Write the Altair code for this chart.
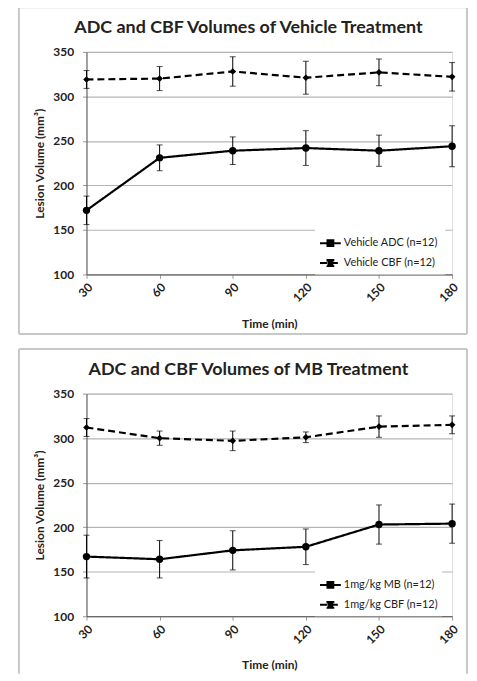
import altair as alt
import pandas as pd

times = [30, 60, 90, 120, 150, 180]

veh_title = "ADC and CBF Volumes of Vehicle Treatment"
veh_labels = ["Vehicle ADC  (n=12)", "Vehicle CBF (n=12)"]
veh_adc = [172, 231, 239, 242, 239, 244]
veh_adc_err = [16, 14.5, 15.5, 19.5, 17.5, 23]
veh_cbf = [319, 320, 328, 321, 327, 322]
veh_cbf_err = [10, 13.5, 16.5, 18.5, 15, 16]

mb_title = "ADC and CBF Volumes of MB Treatment"
mb_labels = ["1mg/kg MB (n=12)", "1mg/kg CBF (n=12)"]
mb_adc = [167, 164, 174, 178, 203, 204]
mb_adc_err = [24, 21, 22, 20, 22, 22]
mb_cbf = [312, 300, 297, 301, 313, 315]
mb_cbf_err = [10, 8, 11, 6, 12, 10]

y_ticks = [100, 150, 200, 250, 300, 350]
FONT = "Lato"
W, H = 368, 224


def panel(title, labels, adc, adc_err, cbf, cbf_err, closed):
    rows = []
    for lab, vals, errs in [(labels[0], adc, adc_err), (labels[1], cbf, cbf_err)]:
        for t, v, e in zip(times, vals, errs):
            rows.append({"time": t, "value": v, "lo": v - e, "hi": v + e, "series": lab})
    df = pd.DataFrame(rows)
    base = alt.Chart(df)

    x = alt.X("time:Q", scale=alt.Scale(domain=[30, 180], nice=False, zero=False),
              axis=alt.Axis(values=times, labelAngle=-45, title="Time (min)", grid=False,
                            labelFont=FONT, labelFontSize=12, labelFontWeight="bold",
                            titleFont=FONT, titleFontSize=12, titleFontWeight="bold",
                            tickSize=4, labelPadding=3, titleY=49, titleBaseline="middle",
                            domainColor="#555", tickColor="#999", labelColor="#222",
                            titleColor="#222"))

    def ydef(field):
        return alt.Y(f"{field}:Q", scale=alt.Scale(domain=[100, 350], nice=False, zero=False),
                     axis=alt.Axis(values=y_ticks, title="Lesion Volume (mm³)", grid=True,
                                   gridColor="#b5b5b5", gridWidth=1.2,
                                   labelFont=FONT, labelFontSize=12, labelFontWeight="bold",
                                   titleFont=FONT, titleFontSize=12, titleFontWeight="bold",
                                   tickSize=4, labelPadding=9, titleX=-47, titleBaseline="middle",
                                   domainColor="#555", tickColor="#999", labelColor="#222",
                                   titleColor="#222"))

    dash = alt.StrokeDash("series:N", scale=alt.Scale(domain=labels, range=[[1, 0], [7, 4]]),
                          legend=alt.Legend(title=None, orient="none", legendX=230, legendY=177,
                                            fillColor="white", padding=4,
                                            labelFont=FONT, labelFontSize=11, labelColor="#222",
                                            symbolType="M-1,0L1,0M-0.28,-0.28L0.28,-0.28L0.28,0.28L-0.28,0.28Z",
                                            symbolSize=440, symbolStrokeWidth=2,
                                            symbolStrokeColor="black", symbolFillColor="black",
                                            rowPadding=1, labelOffset=2))

    line = base.mark_line(color="black", strokeWidth=2.2).encode(x=x, y=ydef("value"), strokeDash=dash)
    pts_adc = base.transform_filter(alt.datum.series == labels[0]).mark_point(
        filled=True, color="black", opacity=1, shape="circle", size=55).encode(x=x, y=ydef("value"))
    pts_cbf = base.transform_filter(alt.datum.series == labels[1]).mark_point(
        filled=True, color="black", opacity=1, shape="diamond", size=45).encode(x=x, y=ydef("value"))
    rule = base.mark_rule(color="black", strokeWidth=1).encode(x=x, y=ydef("lo"), y2="hi:Q")
    cap_lo = base.mark_tick(color="black", orient="horizontal", size=6, thickness=1).encode(x=x, y=ydef("lo"))
    cap_hi = base.mark_tick(color="black", orient="horizontal", size=6, thickness=1).encode(x=x, y=ydef("hi"))

    one = alt.Chart(pd.DataFrame({"a": [0]}))
    fr = dict(stroke="#c8c8c8", strokeWidth=2)
    yb = 284 if closed else 282
    frames = [
        one.mark_rule(**fr).encode(x=alt.value(-68), y=alt.value(-45), y2=alt.value(yb)),
        one.mark_rule(**fr).encode(x=alt.value(W + 15), y=alt.value(-45), y2=alt.value(yb)),
        one.mark_rule(**fr).encode(x=alt.value(-68), x2=alt.value(W + 15), y=alt.value(-45)),
    ]
    if closed:
        frames.append(one.mark_rule(**fr).encode(x=alt.value(-68), x2=alt.value(W + 15), y=alt.value(yb)))

    head = one.mark_text(font=FONT, fontSize=18, fontWeight="bold", color="#222",
                         align="center", baseline="middle").encode(
        x=alt.value(163), y=alt.value(-24), text=alt.value(title))

    return alt.layer(*frames, rule, cap_lo, cap_hi, line, pts_adc, pts_cbf, head).properties(width=W, height=H)


top = panel(veh_title, veh_labels, veh_adc, veh_adc_err, veh_cbf, veh_cbf_err, True)
bottom = panel(mb_title, mb_labels, mb_adc, mb_adc_err, mb_cbf, mb_cbf_err, False)

chart = alt.vconcat(top, bottom, spacing=11).resolve_scale(strokeDash="independent").properties(
    padding={"left": 9, "top": -5, "right": 0, "bottom": 0}
).configure_view(stroke="#555", strokeWidth=1.5).configure(background="white")

chart.save("out.html", embed_options={"renderer": "svg", "actions": False})
